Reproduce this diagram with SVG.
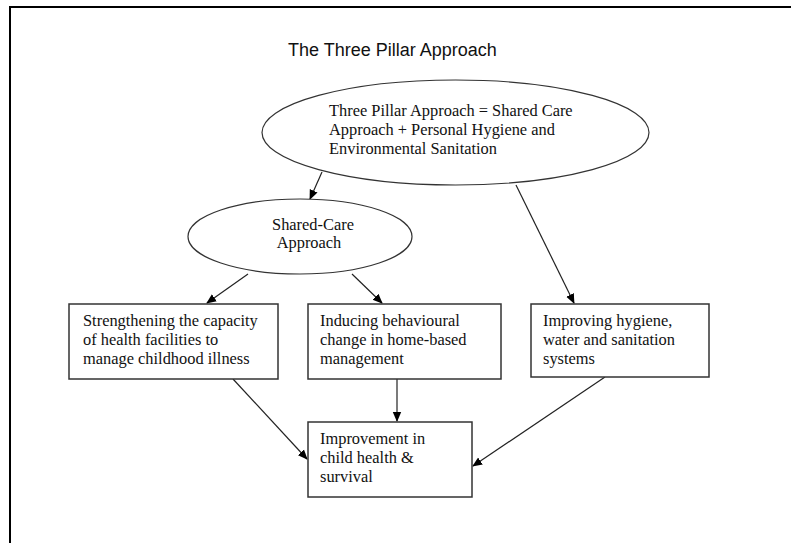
<svg xmlns="http://www.w3.org/2000/svg" width="791" height="543" viewBox="0 0 791 543">
<style>
.frame{fill:none;stroke:#000;stroke-width:2}
.ell{fill:#fff;stroke:#333;stroke-width:1.2}
.box{fill:#fff;stroke:#333;stroke-width:1.5}
.t{font-family:"Liberation Serif","Times New Roman",serif;font-size:16.4px;fill:#111}
.title{font-family:"Liberation Sans",Arial,sans-serif;font-size:18px;fill:#111}
.c{stroke:#222;stroke-width:1.2;fill:none;marker-end:url(#ah)}
</style>
<defs>
<marker id="ah" markerWidth="10" markerHeight="10" refX="9" refY="5" orient="auto" markerUnits="userSpaceOnUse">
<path d="M0,0.8 L10,5 L0,9.2 Z" fill="#000"/>
</marker>
</defs>
<rect width="791" height="543" fill="#fff"/>
<path class="frame" d="M10,543 V7 H791"/>
<text class="title" x="288" y="56">The Three Pillar Approach</text>
<g id="connectors">
<line class="c" x1="322" y1="172" x2="310" y2="199"/>
<line class="c" x1="516" y1="185" x2="574" y2="303"/>
<line class="c" x1="248" y1="274" x2="207" y2="303"/>
<line class="c" x1="352" y1="274" x2="382" y2="303"/>
<line class="c" x1="233" y1="379" x2="307" y2="459"/>
<line class="c" x1="397" y1="379" x2="397" y2="421"/>
<line class="c" x1="605" y1="377" x2="473" y2="466"/>
</g>
<g id="n-three-pillar">
<ellipse class="ell" cx="455.5" cy="132.5" rx="193.5" ry="52.5"/>
<text class="t" x="329" y="116">Three Pillar Approach = Shared Care</text>
<text class="t" x="329" y="135">Approach + Personal Hygiene and</text>
<text class="t" x="329" y="154">Environmental Sanitation</text>
</g>
<g id="n-shared-care">
<ellipse class="ell" cx="300" cy="236.5" rx="112" ry="37.5"/>
<text class="t" x="313" y="230" text-anchor="middle">Shared-Care</text>
<text class="t" x="309" y="248" text-anchor="middle">Approach</text>
</g>
<g id="n-strengthening">
<rect class="box" x="69" y="304" width="209" height="75"/>
<text class="t" x="83" y="326">Strengthening the capacity</text>
<text class="t" x="83" y="345">of health facilities to</text>
<text class="t" x="83" y="364">manage childhood illness</text>
</g>
<g id="n-inducing">
<rect class="box" x="308" y="304" width="193" height="75"/>
<text class="t" x="320" y="326">Inducing behavioural</text>
<text class="t" x="320" y="345">change in home-based</text>
<text class="t" x="320" y="364">management</text>
</g>
<g id="n-improving">
<rect class="box" x="531" y="304" width="178" height="73"/>
<text class="t" x="543" y="326">Improving hygiene,</text>
<text class="t" x="543" y="345">water and sanitation</text>
<text class="t" x="543" y="364">systems</text>
</g>
<g id="n-improvement">
<rect class="box" x="308" y="422" width="164" height="75"/>
<text class="t" x="320" y="444">Improvement in</text>
<text class="t" x="320" y="463">child health &amp;</text>
<text class="t" x="320" y="482">survival</text>
</g>
</svg>
